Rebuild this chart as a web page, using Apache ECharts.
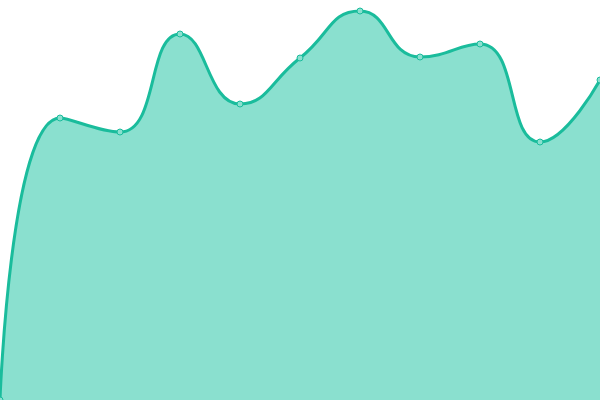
<!DOCTYPE html>
<html>
<head>
<meta charset="utf-8">
<script src="https://cdn.jsdelivr.net/npm/echarts@6/dist/echarts.min.js"></script>
<style>
    html, body { margin: 0; padding: 0; background: #fff; }
    #main { width: 600px; height: 400px; }
</style>
</head>
<body>
<div id="main"></div>
<script>
    var categories = ['1', '2', '3', '4', '5', '6', '7', '8', '9', '10', '11'];
    var values = [0, 282, 268, 366, 296, 342, 389, 343, 356, 258, 320];

    var myChart = echarts.init(document.getElementById('main'));
    var option = {
        animation: false,
        grid: { left: 0, right: 0, top: 0, bottom: 0 },
        xAxis: {
            type: 'category',
            data: categories,
            boundaryGap: false,
            show: false
        },
        yAxis: {
            type: 'value',
            min: 0,
            max: 400,
            show: false
        },
        series: [{
            type: 'line',
            smooth: 0.5,
            data: values,
            symbol: 'circle',
            symbolSize: 6,
            lineStyle: { color: '#1abc9c', width: 3 },
            itemStyle: { color: '#8ae0cf', borderColor: '#1abc9c', borderWidth: 1 },
            areaStyle: { color: '#8ae0cf', opacity: 1 }
        }]
    };
    myChart.setOption(option);
</script>
</body>
</html>
